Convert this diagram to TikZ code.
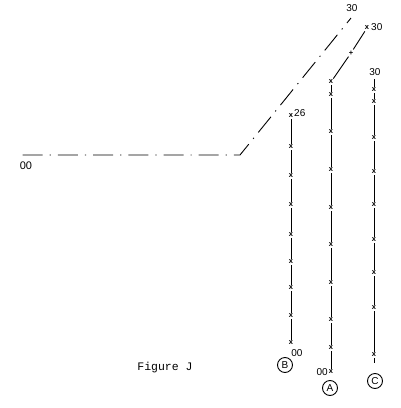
\documentclass[tikz,border=0pt]{standalone}
\usepackage{fontspec}
\setmainfont{Liberation Sans}
\newfontfamily\typewriter{Liberation Mono}
\tikzstyle{cross}=[inner sep=1.2pt, font=\fontsize{7.5}{7.5}\selectfont\bfseries]
\tikzstyle{trail}=[line width=0.9pt]
\tikzstyle{mainline}=[line width=0.9pt, dash pattern=on 20pt off 7pt on 1.2pt off 7pt]
\tikzstyle{tag}=[circle, draw, line width=0.9pt, minimum size=15pt, inner sep=0pt, font=\fontsize{10}{10}\selectfont]
\tikzstyle{num}=[inner sep=1pt, font=\fontsize{10}{10}\selectfont]

\begin{document}
\begin{tikzpicture}[x=1pt,y=-1pt]
\useasboundingbox (0,0) rectangle (400,408);

% the long dash-dot line
\node[inner sep=0pt] (start) at (22,155) {};
\coordinate (bend) at (240,155);
\coordinate (top) at (351,18);
\draw[mainline] (start) -- (bend) -- (top);
\node[num, font=\fontsize{11}{11}\selectfont] (start00) at (26,166) {00};
\node[num] (top30) at (352,8) {30};

% line B
\foreach \n/\y in {1/116,2/147,3/176,4/205,5/235,6/262,7/288,8/316,9/343}
    \node[cross] (b\n) at (291,\y) {x};
\foreach \n [count=\m from 2] in {1,...,8}
    \draw[trail] (b\n) -- (b\m);
\node[num, anchor=west] (b26) at (293,113) {26};
\node[num] (b00) at (297,353) {00};
\node[tag] (tagB) at (285,365) {B};

% line A
\node[cross] (a0) at (367,28) {x};
\node[cross] (aplus) at (351,53) {+};
\node[num, anchor=west] (a30) at (370,27) {30};
\foreach \n/\y in {1/82,2/95,3/132,4/170,5/208,6/245,7/283,8/320,9/348,10/372}
    \node[cross] (a\n) at (331,\y) {x};
\draw[trail] (a0) -- (aplus) -- (a1);
\foreach \n [count=\m from 2] in {1,...,9}
    \draw[trail] (a\n) -- (a\m);
\node[num, anchor=east] (a00) at (329,372) {00};
\node[tag] (tagA) at (330,388) {A};

% line C
\node[num] (c30) at (375,72) {30};
\coordinate (c0) at (374,79);
\foreach \n/\y in {1/90,2/102,3/138,4/172,5/205,6/240,7/273,8/308,9/355}
    \node[cross] (c\n) at (374,\y) {x};
\coordinate (cend) at (374,363);
\draw[trail] (c0) -- (c1);
\foreach \n [count=\m from 2] in {1,...,8}
    \draw[trail] (c\n) -- (c\m);
\draw[trail] (c9) -- (cend);
\node[tag] (tagC) at (375,381) {C};

\node[font=\typewriter\fontsize{11.5}{11.5}\selectfont] (caption) at (165,368) {Figure J};
\end{tikzpicture}
\end{document}
